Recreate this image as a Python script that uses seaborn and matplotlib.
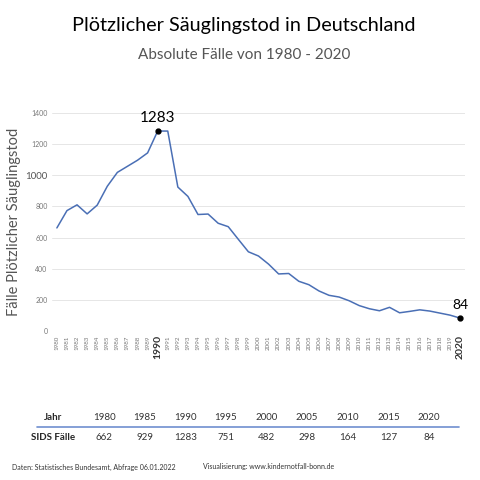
import numpy as np
import pandas as pd
import seaborn as sns
import matplotlib.pyplot as plt

# Daten
jahre = list(range(1980, 2021))
faelle = [662, 773, 810, 752, 808, 929, 1018, 1057, 1096, 1143,
          1283, 1283, 924, 864, 748, 751, 692, 670, 589, 509,
          482, 430, 367, 370, 320, 298, 258, 230, 219, 195,
          164, 144, 131, 153, 118, 127, 137, 129, 116, 103, 84]

tab_jahre = [1980, 1985, 1990, 1995, 2000, 2005, 2010, 2015, 2020]
tab_faelle = [662, 929, 1283, 751, 482, 298, 164, 127, 84]

df = pd.DataFrame({'Jahr': jahre, 'Faelle': faelle})

sns.set_style('white')
plt.rcParams['font.family'] = ['Lato', 'DejaVu Sans']

fig = plt.figure(figsize=(4.8, 4.8), dpi=100)
ax = fig.add_axes([0.108, 0.31, 0.861, 0.455])

sns.lineplot(data=df, x='Jahr', y='Faelle', ax=ax, color='#4a6fb5', linewidth=1.1)

# Markierungen
for j in (1990, 2020):
    v = faelle[jahre.index(j)]
    ax.plot(j, v, 'o', color='black', markersize=3.5, zorder=5)
ax.annotate(str(faelle[jahre.index(1990)]), (1990, faelle[jahre.index(1990)]),
            xytext=(0, 4), textcoords='offset points', ha='center', va='bottom',
            fontsize=11, color='black')
ax.annotate(str(faelle[-1]), (2020, faelle[-1]),
            xytext=(0, 5), textcoords='offset points', ha='center', va='bottom',
            fontsize=10, color='black')

ax.set_xlim(1979.5, 2020.5)
ax.set_ylim(0, 1400)
ax.set_yticks(range(0, 1401, 200))
ax.set_xticks(jahre)
ax.set_xticklabels([str(j) for j in jahre], rotation=90, fontsize=4.5, color='#777777')
for lbl in ax.get_xticklabels():
    if lbl.get_text() in ('1990', '2020'):
        lbl.set_fontsize(7.5)
        lbl.set_fontweight('bold')
        lbl.set_color('#333333')
ax.set_yticklabels([str(v) for v in range(0, 1401, 200)], fontsize=5, color='#777777')
for lbl in ax.get_yticklabels():
    if lbl.get_text() == '1000':
        lbl.set_fontsize(7)
        lbl.set_color('#555555')
ax.tick_params(axis='both', length=0, pad=3)
ax.grid(axis='y', color='#e6e6e6', linewidth=0.7)
ax.grid(axis='x', visible=False)
for s in ax.spines.values():
    s.set_visible(False)
ax.set_xlabel('')
ax.set_ylabel('Fälle Plötzlicher Säuglingstod', fontsize=10.5, color='#555555')
ax.yaxis.set_label_coords(-0.074, 0.5)

# Titel
fig.text(0.508, 1 - 26 / 480, 'Plötzlicher Säuglingstod in Deutschland', ha='center', va='center',
         fontsize=14.3, color='black')
fig.text(0.509, 1 - 55 / 480, 'Absolute Fälle von 1980 - 2020', ha='center', va='center',
         fontsize=11, color='#555555')

# Tabelle
y_head = 1 - 417 / 480
y_row = 1 - 437 / 480
fig.text(53 / 480, y_head, 'Jahr', ha='center', va='center', fontsize=7, fontweight='bold')
fig.text(53 / 480, y_row, 'SIDS Fälle', ha='center', va='center', fontsize=7, fontweight='bold')
xs = np.linspace(104, 429, len(tab_jahre)) / 480
for x, j, f in zip(xs, tab_jahre, tab_faelle):
    fig.text(x, y_head, str(j), ha='center', va='center', fontsize=7, color='#333333')
    fig.text(x, y_row, str(f), ha='center', va='center', fontsize=7, color='#333333')
fig.add_artist(plt.Line2D([37 / 480, 459 / 480], [1 - 427 / 480, 1 - 427 / 480],
                          color='#6f8fd0', linewidth=1.2))

# Fußzeile
fig.text(12 / 480, 1 - 467 / 480, 'Daten: Statistisches Bundesamt, Abfrage 06.01.2022',
         ha='left', va='center', fontsize=5, color='#333333')
fig.text(203 / 480, 1 - 467 / 480, 'Visualisierung: www.kindernotfall-bonn.de',
         ha='left', va='center', fontsize=5, color='#333333')

fig.savefig('out.png', dpi=100)
